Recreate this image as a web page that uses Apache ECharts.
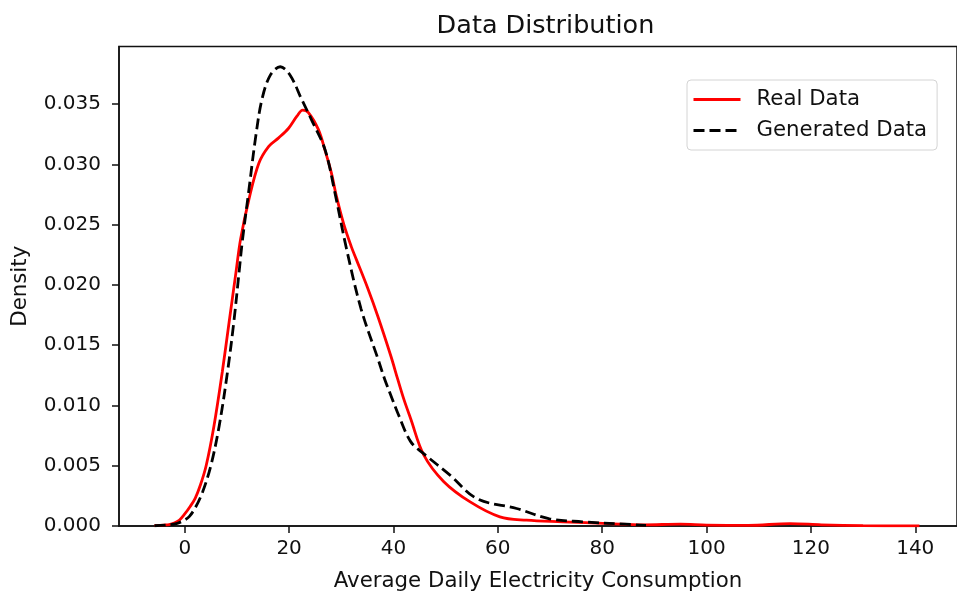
<!DOCTYPE html>
<html>
<head>
<meta charset="utf-8">
<script src="https://cdn.jsdelivr.net/npm/echarts@6/dist/echarts.min.js"></script>
<style>
  html, body { margin: 0; padding: 0; background: #fff; }
  #chart { width: 957px; height: 597px; }
</style>
</head>
<body>
<div id="chart"></div>
<script>
// Kernel density estimate of average daily electricity consumption
const realX = [-5.8, -4, -3, -2, -1, 0, 1, 2, 3, 4.1, 5.6, 7.2, 8.5, 9.8, 10.7, 12.3, 14.2, 16.1, 18.0, 19.9, 21.5, 22.6, 23.7, 25.6, 27.0, 28.1, 29.1, 30.5, 31.9, 32.9, 35.0, 37.0, 39.5, 40.8, 42.0, 43.3, 45.8, 49.6, 54.7, 60.4, 65.5, 72.4, 81.2, 88, 95, 100, 108, 116, 122, 130, 140.8];
const realY = [0.00003, 0.00008, 0.00012, 0.00025, 0.0005, 0.0010, 0.0016, 0.0023, 0.0034, 0.0050, 0.0083, 0.0128, 0.0169, 0.0210, 0.0238, 0.0271, 0.0301, 0.0315, 0.0322, 0.0330, 0.0340, 0.0345, 0.0343, 0.0329, 0.0310, 0.0293, 0.0273, 0.0250, 0.0232, 0.0221, 0.0198, 0.0174, 0.0141, 0.0122, 0.0105, 0.0089, 0.0059, 0.0037, 0.0020, 0.00076, 0.00048, 0.00035, 0.0002, 0.0001, 0.00015, 0.00008, 0.00005, 0.0002, 0.0001, 0.00003, 0.00001];

const genX = [-5.8, -3.5, -1.6, 0, 0.9, 2, 3.4, 5.0, 6.6, 8.2, 9.4, 10.4, 11.0, 12.3, 13.6, 14.8, 16.4, 18.3, 20.2, 22.4, 24.3, 26.9, 28.8, 31.0, 33.8, 37.0, 38.3, 39.8, 40.8, 43.3, 45.8, 50.9, 56.0, 63.6, 69.9, 76.2, 84.5, 88.4];
const genY = [0.00002, 0.00008, 0.0002, 0.0005, 0.0008, 0.0015, 0.0028, 0.0050, 0.0083, 0.0128, 0.0169, 0.0210, 0.0235, 0.0279, 0.0323, 0.0354, 0.0374, 0.0381, 0.0374, 0.0354, 0.0337, 0.0312, 0.0276, 0.0230, 0.0180, 0.0139, 0.0122, 0.0105, 0.0094, 0.0070, 0.0060, 0.0042, 0.00227, 0.00145, 0.0006, 0.00035, 0.00015, 0.00005];

const xTicks = [0, 20, 40, 60, 80, 100, 120, 140];
const yTicks = [0, 0.005, 0.010, 0.015, 0.020, 0.025, 0.030, 0.035];

const seriesNames = ['Real Data', 'Generated Data'];
const titleText = 'Data Distribution';
const xName = 'Average Daily Electricity Consumption';
const yName = 'Density';

const FONT = 'DejaVu Sans';
const zip = (xs, ys) => xs.map((x, i) => [x, ys[i]]);

const chart = echarts.init(document.getElementById('chart'), null, { renderer: 'canvas' });

chart.setOption({
  backgroundColor: '#ffffff',
  animation: false,
  title: {
    text: titleText,
    left: 540.5,
    textAlign: 'center',
    top: 8,
    textStyle: { fontFamily: FONT, fontSize: 25.5, fontWeight: 'normal', color: '#111' }
  },
  legend: {
    orient: 'vertical',
    left: 687,
    top: 80,
    padding: [9, 10, 9, 5],
    itemWidth: 47,
    itemHeight: 14,
    itemGap: 10,
    borderColor: '#d4d4d4',
    borderWidth: 1,
    borderRadius: 4,
    backgroundColor: 'rgba(255,255,255,0.8)',
    itemStyle: { opacity: 0 },
    lineStyle: { width: 3 },
    textStyle: { fontFamily: FONT, fontSize: 21.3, color: '#111', padding: [0, 0, 0, 11] },
    data: seriesNames
  },
  grid: {
    left: 119,
    right: -8,
    top: 46.5,
    bottom: 69.5,
    show: true,
    borderColor: '#111',
    borderWidth: 1.5,
    containLabel: false
  },
  xAxis: {
    type: 'value',
    min: -12.6,
    max: 148,
    name: xName,
    nameLocation: 'middle',
    nameGap: 45,
    nameTextStyle: { fontFamily: FONT, fontSize: 21.3, color: '#111' },
    axisLine: { show: true, onZero: false, lineStyle: { color: '#111', width: 1.5 } },
    axisTick: { show: true, length: 7, inside: false, customValues: xTicks, lineStyle: { color: '#111', width: 1.5 } },
    axisLabel: { customValues: xTicks, margin: 13, fontFamily: FONT, fontSize: 20, color: '#111' },
    splitLine: { show: false }
  },
  yAxis: {
    type: 'value',
    min: 0,
    max: 0.03978,
    name: yName,
    nameLocation: 'middle',
    nameGap: 88,
    nameRotate: 90,
    nameTextStyle: { fontFamily: FONT, fontSize: 21.3, color: '#111' },
    axisLine: { show: true, onZero: false, lineStyle: { color: '#111', width: 1.5 } },
    axisTick: { show: true, length: 7, inside: false, customValues: yTicks, lineStyle: { color: '#111', width: 1.5 } },
    axisLabel: {
      customValues: yTicks,
      margin: 18,
      fontFamily: FONT,
      fontSize: 20,
      color: '#111',
      formatter: v => v.toFixed(3)
    },
    splitLine: { show: false }
  },
  series: [
    {
      name: seriesNames[0],
      type: 'line',
      data: zip(realX, realY),
      smooth: 0.35,
      symbol: 'none',
      lineStyle: { color: '#ff0000', width: 2.8 },
      itemStyle: { color: '#ff0000' },
      z: 2
    },
    {
      name: seriesNames[1],
      type: 'line',
      data: zip(genX, genY),
      smooth: 0.35,
      symbol: 'none',
      lineStyle: { color: '#000000', width: 2.8, type: [11, 5] },
      itemStyle: { color: '#000000' },
      z: 3
    }
  ]
});
</script>
</body>
</html>
